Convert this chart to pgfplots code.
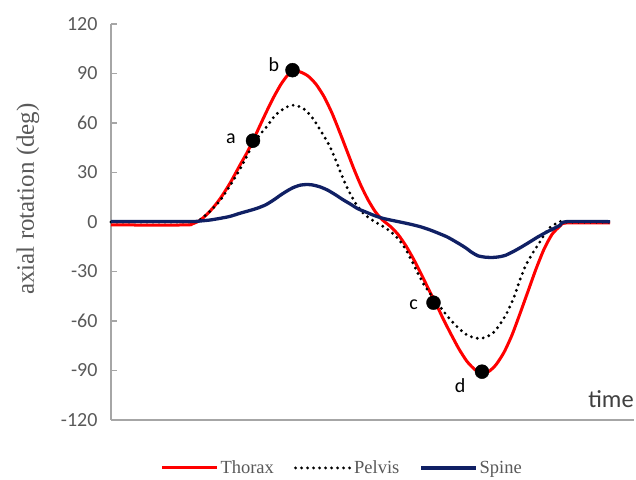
\documentclass[border=0pt]{standalone}
\usepackage{pgfplots}
\pgfplotsset{compat=1.18}
\usepackage{fontspec}
\setmainfont{Liberation Serif}
\newfontfamily\calibri{Carlito}
\definecolor{navy}{RGB}{16,32,100}
\definecolor{txtgray}{RGB}{89,89,89}
\definecolor{axgray}{RGB}{166,166,166}
\begin{document}
\begin{tikzpicture}
\useasboundingbox (0,0) rectangle (636pt,479pt);
\begin{axis}[
  at={(111pt,59pt)}, anchor=south west,
  scale only axis, width=523pt, height=396pt,
  xmin=111, xmax=634, ymin=-120, ymax=120,
  axis x line=bottom, axis y line=left,
  axis line style={draw=axgray, line width=1.4pt, -},
  xtick=\empty,
  ytick={-120,-90,...,120},
  tick align=inside, major tick length=6pt,
  tick style={draw=axgray, line width=1.2pt},
  /pgf/number format/assume math mode=true,
  yticklabel style={font=\calibri\fontsize{20}{23}\selectfont, text=txtgray, xshift=-10pt},
  ylabel={axial rotation (deg)},
  ylabel style={at={(axis description cs:-0.159,0.558)}, anchor=center, font=\fontsize{25}{28}\selectfont, text=txtgray},
  clip=false,
  legend columns=3,
  legend style={draw=none, fill=none, at={(axis description cs:0.442,-0.121)}, anchor=center,
    font=\fontsize{18.5}{20}\selectfont, text=txtgray,
    /tikz/every even column/.append style={column sep=18pt}},
  legend image code/.code={\draw[#1] (0pt,0pt) -- (55pt,0pt);},
]
\addplot[red, line width=3pt, smooth, tension=0.4] coordinates {
(111,-1.8) (185,-1.8) (192,-1.2) (200,1) (210,6.5) (220,14) (230,23.5) (240,34.5) (247,42) (253,49.3) (260,58.5) (267,67.5) (274,76) (281,83.5) (287,88.5) (292.5,91.5) (300,91) (308,88.5) (316,83.5) (324,76) (332,66) (340,54) (347,43) (354,32) (361,22) (368,13.5) (375,6.5) (382,1.5) (390,-2.5) (398,-7.5) (406,-14.5) (414,-23) (422,-32.5) (430,-42.5) (436,-49.5) (443,-58.5) (451,-68) (459,-77) (467,-84.5) (475,-89.5) (482,-91.5) (489,-90.5) (496,-86.5) (504,-79) (512,-68.5) (520,-55.5) (528,-42) (536,-28.5) (544,-16.5) (552,-7.5) (560,-2.5) (566,-0.6) (610,-0.6)
};
\addlegendentry{Thorax}
\addplot[black, line width=3.2pt, line cap=round, dash pattern=on 0pt off 6pt, smooth, tension=0.4] coordinates {
(111,0) (190,0) (200,1.5) (210,6.5) (220,13) (230,22) (240,32) (250,43.6) (258,51.5) (267,58) (275,64.5) (280,67) (286,69.5) (292,70.8) (298,70.3) (305,68) (312,63.5) (318,58) (324,52) (330,45.6) (337,35.6) (343,26.5) (349,18.5) (356,11) (363,5.5) (370,2) (377,-0.6) (384,-3) (392,-6.5) (400,-11.5) (407,-18) (415,-27.5) (423,-37) (432,-45) (440,-51.3) (448,-57.5) (457,-63.4) (467,-68.5) (477,-70.5) (485,-70) (493,-67.3) (500,-62) (507,-55) (514,-45.5) (520,-35) (526,-26) (533,-18.5) (540,-12) (546,-6) (551,-2.8) (560,0.3) (565,0) (610,0)
};
\addlegendentry{Pelvis}
\addplot[navy, line width=3.3pt, smooth, tension=0.4] coordinates {
(111,0.3) (190,0.3) (200,0.6) (210,1.2) (220,2.2) (230,3.4) (240,5.3) (250,7) (258,8.5) (266,10.5) (274,13.5) (281,16.5) (287,18.8) (293,20.8) (300,22.3) (306,22.7) (312,22.5) (320,21.3) (328,19.2) (336,16.3) (343,13.5) (350,11) (358,8) (366,6) (374,4) (383,2.2) (392,1) (400,0) (410,-1.3) (420,-2.8) (430,-4.8) (440,-7.2) (447,-9) (453,-11) (460,-13.5) (466,-15.8) (472,-18.5) (478,-20.5) (485,-21.3) (492,-21.5) (498,-21.2) (505,-20.3) (513,-18) (521,-15.3) (530,-12) (538,-9) (547,-6) (553,-4.2) (560,-2) (566,0.2) (610,0.2)
};
\addlegendentry{Spine}
\addplot[only marks, mark=*, mark size=7pt, black, forget plot] coordinates {
(253,49.3) (292.5,92) (433.5,-48.9) (482,-90.7)
};
\node[font=\calibri\fontsize{20}{22}\selectfont] at (axis cs:231,50.5) {a};
\node[font=\calibri\fontsize{20}{22}\selectfont] at (axis cs:274,95.5) {b};
\node[font=\calibri\fontsize{20}{22}\selectfont] at (axis cs:413.5,-50.3) {c};
\node[font=\calibri\fontsize{20}{22}\selectfont] at (axis cs:460,-99.4) {d};
\node[font=\calibri\fontsize{24.5}{27}\selectfont, text={rgb,255:red,64;green,64;blue,64}, anchor=base] at (axis cs:611,-112.7) {time};
\end{axis}
\end{tikzpicture}
\end{document}
